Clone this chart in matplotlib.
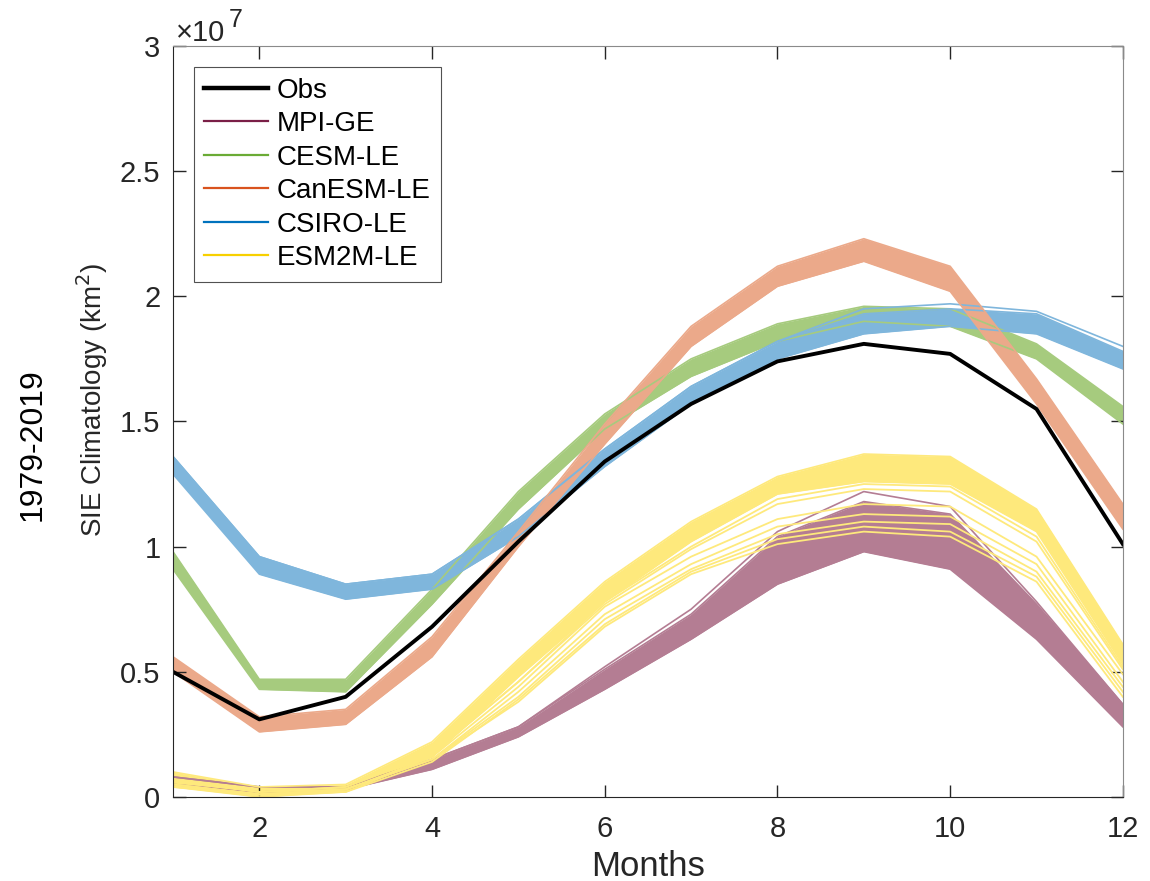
import matplotlib.pyplot as plt
from matplotlib.lines import Line2D
import numpy as np

plt.rcParams['font.family'] = ['Liberation Sans', 'DejaVu Sans']

# ***** DATA (sea ice extent, units of 1e7 km^2) *****
months = np.arange(1, 13)

obs = [0.50, 0.31, 0.40, 0.68, 1.02, 1.34, 1.57, 1.74, 1.81, 1.77, 1.55, 1.01]

# ensemble envelopes (lowest / highest member)
mpi_lo = [0.05, 0.02, 0.03, 0.11, 0.24, 0.43, 0.63, 0.85, 0.98, 0.91, 0.63, 0.28]
mpi_hi = [0.08, 0.04, 0.04, 0.15, 0.28, 0.51, 0.73, 1.04, 1.18, 1.13, 0.77, 0.37]
mpi_outlier = [0.08, 0.04, 0.04, 0.15, 0.28, 0.52, 0.75, 1.06, 1.22, 1.16, 0.78, 0.37]

cesm_lo = [0.91, 0.43, 0.42, 0.77, 1.15, 1.47, 1.68, 1.82, 1.90, 1.88, 1.75, 1.49]
cesm_hi = [0.98, 0.47, 0.47, 0.83, 1.22, 1.53, 1.75, 1.89, 1.96, 1.95, 1.81, 1.56]

canesm_lo = [0.50, 0.26, 0.29, 0.56, 1.00, 1.41, 1.80, 2.04, 2.14, 2.02, 1.57, 1.07]
canesm_hi = [0.56, 0.32, 0.35, 0.64, 1.06, 1.49, 1.88, 2.12, 2.23, 2.12, 1.67, 1.17]

csiro_lo = [1.29, 0.89, 0.79, 0.83, 1.04, 1.32, 1.57, 1.75, 1.85, 1.88, 1.85, 1.71]
csiro_hi = [1.36, 0.96, 0.85, 0.89, 1.11, 1.39, 1.64, 1.82, 1.93, 1.95, 1.93, 1.78]
csiro_outlier = [1.36, 0.96, 0.85, 0.89, 1.11, 1.39, 1.64, 1.82, 1.95, 1.97, 1.94, 1.80]

esm2m_lo = [0.04, 0.00, 0.02, 0.16, 0.48, 0.78, 1.02, 1.21, 1.26, 1.25, 1.06, 0.53]
esm2m_hi = [0.10, 0.04, 0.05, 0.22, 0.55, 0.86, 1.10, 1.28, 1.37, 1.36, 1.15, 0.61]
# ESM2M members that split away from the main band
esm2m_members = [
    [0.07, 0.02, 0.04, 0.17, 0.46, 0.78, 1.00, 1.19, 1.25, 1.24, 1.04, 0.52],
    [0.07, 0.02, 0.04, 0.17, 0.46, 0.77, 0.99, 1.17, 1.23, 1.22, 1.02, 0.51],
    [0.06, 0.02, 0.03, 0.16, 0.44, 0.76, 0.96, 1.11, 1.17, 1.16, 0.96, 0.49],
    [0.05, 0.01, 0.03, 0.15, 0.42, 0.73, 0.93, 1.08, 1.13, 1.12, 0.93, 0.46],
    [0.05, 0.01, 0.03, 0.15, 0.40, 0.71, 0.91, 1.05, 1.10, 1.09, 0.90, 0.44],
    [0.04, 0.01, 0.02, 0.14, 0.39, 0.69, 0.90, 1.03, 1.08, 1.06, 0.88, 0.42],
    [0.05, 0.01, 0.03, 0.15, 0.38, 0.68, 0.89, 1.01, 1.06, 1.04, 0.86, 0.40],
]

labels = ['Obs', 'MPI-GE', 'CESM-LE', 'CanESM-LE', 'CSIRO-LE', 'ESM2M-LE']
legend_colors = ['black', '#7a1f47', '#6aab35', '#d9531e', '#0072bd', '#f7d000']

# band colours (faded)
c_mpi = '#b47d93'
c_cesm = '#a6cb7e'
c_can = '#eba98a'
c_csiro = '#7fb6dc'
c_esm2m = '#fee97c'

# ***** PLOTTING *****
fig = plt.figure(figsize=(11.5, 8.81), dpi=100)
ax = fig.add_axes([0.1504, 0.0954, 0.826, 0.8524])


def band(lo, hi, color):
    ax.fill_between(months, lo, hi, color=color, lw=0)
    ax.plot(months, lo, color=color, lw=1.2)
    ax.plot(months, hi, color=color, lw=1.2)


band(mpi_lo, mpi_hi, c_mpi)
ax.plot(months, mpi_outlier, color=c_mpi, lw=1.2)
band(cesm_lo, cesm_hi, c_cesm)
band(csiro_lo, csiro_hi, c_csiro)
ax.plot(months, csiro_outlier, color=c_csiro, lw=1.2)
band(canesm_lo, canesm_hi, c_can)
band(esm2m_lo, esm2m_hi, c_esm2m)
for m in esm2m_members:
    ax.plot(months, m, color=c_esm2m, lw=1.3)
ax.plot(months, obs, color='black', lw=2.8)

ax.set_xlim(1, 12)
ax.set_ylim(0, 3)
ax.set_xticks([2, 4, 6, 8, 10, 12])
ax.set_yticks([0, 0.5, 1, 1.5, 2, 2.5, 3])
ax.set_yticklabels(['0', '0.5', '1', '1.5', '2', '2.5', '3'])
ax.tick_params(direction='in', length=9, width=1, labelsize=21, colors='#262626',
               top=True, right=True)
ax.tick_params(axis='x', pad=13)
ax.tick_params(axis='y', pad=9)
for s in ['left', 'bottom']:
    ax.spines[s].set_color('#262626')
for s in ['top', 'right']:
    ax.spines[s].set_color('#8a8a8a')

# exponent label
fig.text(176 / 1150, 1 - 41 / 881, '\u00d710', fontsize=21, color='#262626',
         ha='left', va='baseline')
fig.text(229 / 1150, 1 - 27 / 881, '7', fontsize=18, color='#262626',
         ha='left', va='baseline')

fig.text(648 / 1150, 1 - 876 / 881, 'Months', fontsize=25, color='#262626',
         ha='center', va='baseline')
fig.text(92 / 1150, 1 - 400 / 881, 'SIE Climatology (km$^2$)', rotation=90,
         fontsize=20, color='#262626', ha='center', va='center')
fig.text(33 / 1150, 1 - 445 / 881, '1979-2019', rotation=90, fontsize=23,
         color='black', ha='center', va='center')

handles = [Line2D([], [], color=c, lw=(3.2 if i == 0 else 1.6))
           for i, c in enumerate(legend_colors)]
leg = ax.legend(handles, labels, loc='upper left', bbox_to_anchor=(0.022, 0.972),
                borderaxespad=0, fontsize=20, frameon=True, fancybox=False,
                edgecolor='#262626', handlelength=2.3, labelspacing=0.27,
                borderpad=0.38, handletextpad=0.3)
leg.get_frame().set_linewidth(0.8)

plt.savefig('out.png', dpi=100)
